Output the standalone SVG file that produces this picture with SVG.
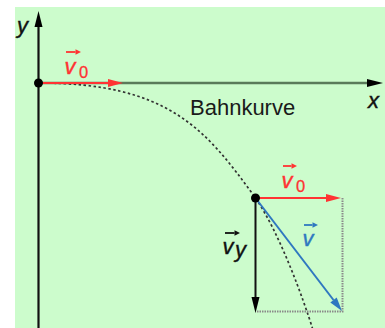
<svg xmlns="http://www.w3.org/2000/svg" width="385" height="328" viewBox="0 0 385 328">
<style>
.lbl{font-family:"Liberation Sans",Arial,sans-serif;}
.it{font-style:italic;font-size:22px;stroke-width:0.4px;}
.sub{font-size:16.5px;stroke-width:0.3px;}
.red{fill:#ff3333;stroke:#ff3333;}
.blue{fill:#2f78c0;stroke:#2f78c0;}
.blk{fill:#111;stroke:#111;}
.plain{fill:#1a1a1a;stroke:none;}
</style>
<defs>
<marker id="hRed" markerUnits="userSpaceOnUse" markerWidth="15" markerHeight="8" refX="0" refY="4" orient="auto" overflow="visible"><path d="M0,0 L15,4 L0,8 z" fill="#ff3333"/></marker>
<marker id="hBlk" markerUnits="userSpaceOnUse" markerWidth="16" markerHeight="8" refX="0" refY="4" orient="auto" overflow="visible"><path d="M0,0 L16,4 L0,8 z" fill="#000"/></marker>
<marker id="hBlue" markerUnits="userSpaceOnUse" markerWidth="14" markerHeight="8" refX="0" refY="4" orient="auto" overflow="visible"><path d="M0,0 L14,4 L0,8 z" fill="#2f78c0"/></marker>
<marker id="sRed" markerUnits="userSpaceOnUse" markerWidth="5" markerHeight="5" refX="0" refY="2.75" orient="auto" overflow="visible"><path d="M0,0 L5.5,2.75 L0,5.5 z" fill="#ff3333"/></marker>
<marker id="sBlk" markerUnits="userSpaceOnUse" markerWidth="5" markerHeight="5" refX="0" refY="2.75" orient="auto" overflow="visible"><path d="M0,0 L5.5,2.75 L0,5.5 z" fill="#111"/></marker>
<marker id="sBlue" markerUnits="userSpaceOnUse" markerWidth="5" markerHeight="5" refX="0" refY="2.75" orient="auto" overflow="visible"><path d="M0,0 L5.5,2.75 L0,5.5 z" fill="#2f78c0"/></marker>
</defs>
<rect id="background" x="15" y="7" width="370" height="321" fill="#ccfccc"/>
<g id="axes">
<line x1="38.5" y1="83" x2="367" y2="83" stroke="#5a7a5a" stroke-width="2.6" marker-end="url(#hBlk)"/>
<line x1="38.5" y1="328" x2="38.5" y2="27" stroke="#111" stroke-width="2.2" marker-end="url(#hBlk)"/>
<text class="lbl it blk" x="17" y="33">y</text>
<text class="lbl it blk" x="368" y="108">x</text>
</g>
<g id="trajectory">
<path d="M38.5,83 C168,83 205,128 255.5,198 C280,234 303,298 313,330" fill="none" stroke="#333" stroke-width="1.7" stroke-dasharray="2.5 2.5"/>
<text class="lbl plain" x="190" y="115" font-size="22">Bahnkurve</text>
</g>
<g id="connectors">
<line x1="38.5" y1="83" x2="108" y2="83" stroke="#ff3333" stroke-width="2" marker-end="url(#hRed)"/>
<path d="M342.5,198 V311.5 H255.5" fill="none" stroke="#8a8a8a" stroke-width="2" stroke-dasharray="1.5 1"/>
<line x1="255.5" y1="198" x2="326" y2="198" stroke="#ff3333" stroke-width="2" marker-end="url(#hRed)"/>
<line x1="255.5" y1="198" x2="255.5" y2="297" stroke="#111" stroke-width="2" marker-end="url(#hBlk)"/>
<line x1="255.5" y1="198" x2="333.5" y2="300" stroke="#2f78c0" stroke-width="2" marker-end="url(#hBlue)"/>
</g>
<g id="origin"><circle cx="38.5" cy="83" r="4.5" fill="#000"/></g>
<g id="point"><circle cx="255.5" cy="198" r="4.5" fill="#000"/></g>
<g id="label-v0-top">
<line x1="66" y1="52" x2="75.5" y2="52" stroke="#ff3333" stroke-width="1.8" marker-end="url(#sRed)"/>
<text class="lbl it red" x="64.5" y="73.5">v</text>
<text class="lbl sub red" x="79" y="78">0</text>
</g>
<g id="label-v0">
<line x1="283" y1="166" x2="291.5" y2="166" stroke="#ff3333" stroke-width="1.8" marker-end="url(#sRed)"/>
<text class="lbl it red" x="281.5" y="188">v</text>
<text class="lbl sub red" x="296" y="191.5">0</text>
</g>
<g id="label-v">
<line x1="304" y1="225" x2="312.5" y2="225" stroke="#2f78c0" stroke-width="1.8" marker-end="url(#sBlue)"/>
<text class="lbl it blue" x="302.5" y="246">v</text>
</g>
<g id="label-vy">
<line x1="225" y1="233" x2="234.5" y2="233" stroke="#111" stroke-width="1.8" marker-end="url(#sBlk)"/>
<text class="lbl it blk" x="222.5" y="253.5">v</text>
<text class="lbl it blk" x="235" y="257">y</text>
</g>
</svg>
